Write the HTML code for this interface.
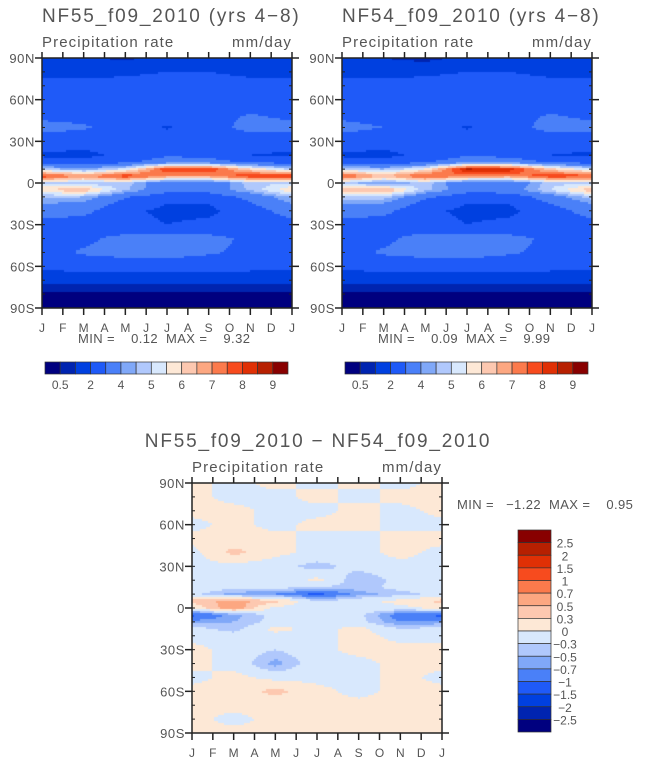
<!DOCTYPE html>
<html><head><meta charset="utf-8">
<style>
html,body{margin:0;padding:0;background:#fff;}
#wrap{position:relative;width:645px;height:763px;overflow:hidden;}
canvas,svg{position:absolute;left:0;top:0;}
text{font-family:"Liberation Sans",sans-serif;fill:#555;white-space:pre;}
</style></head><body>
<div id="wrap">
<canvas id="cv" width="645" height="763"></canvas>
<svg id="sv" width="645" height="763"></svg>
</div>
<script>
// ---- data ----
const lats = [90,80,70,60,50,40,30,20,15,10,5,0,-5,-10,-15,-20,-30,-40,-50,-60,-70,-80,-90];
const monthCols = [0,2,4,6,8,10,12]; // Jan, Mar, May, Jul, Sep, Nov, Jan
const monthLabels = ["J","F","M","A","M","J","J","A","S","O","N","D","J"];
const latTicks = [90,60,30,0,-30,-60,-90];
const latTickLabels = ["90N","60N","30N","0","30S","60S","90S"];
const precipNF55 = [
 [1.5,1.2,0.8,1.5,1.8,1.5,1.5],
 [1.8,1.8,1.8,2.0,2.0,1.8,1.8],
 [2.3,2.2,2.4,2.6,2.4,2.3,2.3],
 [2.6,2.6,2.6,2.8,2.8,2.7,2.6],
 [2.8,2.7,2.7,2.7,2.8,3.0,2.8],
 [3.2,3.1,2.6,1.9,2.6,3.3,3.2],
 [2.7,2.5,2.4,2.7,2.6,2.4,2.7],
 [1.8,1.7,2.3,2.9,2.7,2.0,1.8],
 [2.6,2.4,2.8,3.5,3.5,2.8,2.6],
 [4.8,4.2,5.2,8.0,8.0,6.0,4.8],
 [8.0,7.0,8.0,7.0,7.0,8.0,8.0],
 [5.0,4.6,4.8,3.2,3.2,4.8,5.0],
 [6.0,6.5,4.6,3.3,3.4,4.6,6.0],
 [4.6,4.5,3.1,2.4,2.4,3.3,4.6],
 [4.0,3.8,2.6,2.0,2.0,2.9,4.0],
 [3.5,3.3,2.2,1.8,1.8,2.5,3.5],
 [2.6,2.5,2.3,2.0,2.2,2.4,2.6],
 [2.6,2.8,3.3,3.4,3.3,2.8,2.6],
 [2.7,3.1,3.3,3.3,3.1,2.8,2.7],
 [2.3,2.5,2.5,2.6,2.5,2.4,2.3],
 [1.2,1.2,1.3,1.3,1.3,1.2,1.2],
 [0.4,0.4,0.4,0.4,0.4,0.4,0.4],
 [0.2,0.2,0.2,0.2,0.2,0.2,0.2]];
const precipNF54 = [
 [1.2,1.0,0.7,1.3,1.6,1.3,1.2],
 [1.8,1.8,1.8,2.0,2.0,1.8,1.8],
 [2.3,2.2,2.4,2.6,2.4,2.3,2.3],
 [2.6,2.6,2.6,2.8,2.8,2.7,2.6],
 [2.8,2.7,2.7,2.7,2.8,3.0,2.8],
 [3.2,3.0,2.5,1.9,2.6,3.3,3.2],
 [2.7,2.5,2.4,2.7,2.6,2.4,2.7],
 [1.8,1.7,2.3,2.9,2.7,2.0,1.8],
 [2.6,2.4,2.9,3.7,3.7,2.9,2.6],
 [5.0,4.5,5.6,8.6,8.4,6.2,5.0],
 [7.8,6.5,7.8,7.2,7.0,8.0,7.8],
 [4.8,4.0,4.8,3.2,3.2,4.8,4.8],
 [6.5,6.8,4.7,3.4,3.5,5.0,6.5],
 [4.8,4.8,3.2,2.4,2.4,3.5,4.8],
 [4.0,3.9,2.6,2.0,2.0,3.0,4.0],
 [3.5,3.3,2.2,1.8,1.8,2.5,3.5],
 [2.6,2.5,2.4,2.0,2.2,2.4,2.6],
 [2.6,2.8,3.4,3.5,3.3,2.8,2.6],
 [2.7,3.1,3.3,3.3,3.1,2.8,2.7],
 [2.3,2.5,2.5,2.6,2.5,2.4,2.3],
 [1.2,1.2,1.3,1.3,1.3,1.2,1.2],
 [0.4,0.4,0.4,0.4,0.4,0.4,0.4],
 [0.2,0.2,0.2,0.2,0.2,0.2,0.2]];
const precipDiff = [
 [0.1,-0.1,0.1,-0.1,0.1,-0.1,0.1],
 [0.1,-0.1,-0.1,0.1,-0.1,0.1,0.1],
 [0.1,0.1,-0.1,-0.1,0.1,-0.1,0.1],
 [-0.1,0.1,-0.1,0.1,0.1,-0.1,-0.1],
 [0.1,0.1,0.1,-0.1,-0.1,0.1,0.1],
 [-0.1,0.4,0.1,-0.1,-0.1,0.1,-0.1],
 [-0.1,-0.1,-0.2,-0.4,-0.2,-0.1,-0.1],
 [-0.1,-0.1,-0.3,0.1,-0.5,-0.2,-0.1],
 [-0.1,-0.2,-0.2,-0.3,-0.4,-0.2,-0.1],
 [-0.2,-0.6,-0.7,-1.1,-0.6,-0.4,-0.2],
 [0.4,0.6,0.4,-0.3,-0.1,0.1,0.4],
 [0.1,0.7,-0.1,-0.1,-0.1,-0.1,0.1],
 [-1.1,-0.6,-0.2,-0.3,-0.2,-0.9,-1.1],
 [-0.6,-0.5,-0.2,-0.1,-0.2,-0.7,-0.6],
 [-0.2,-0.4,0.1,-0.1,0.1,-0.3,-0.2],
 [-0.1,-0.2,-0.1,-0.1,0.1,-0.1,-0.1],
 [0.1,-0.1,-0.3,-0.1,0.1,0.1,0.1],
 [0.1,-0.1,-0.6,-0.1,-0.1,0.1,0.1],
 [-0.1,0.1,-0.1,-0.1,-0.1,0.1,-0.1],
 [0.1,0.1,0.4,0.1,-0.1,0.1,0.1],
 [0.1,0.1,0.1,0.1,0.1,0.1,0.1],
 [0.1,-0.1,0.1,0.1,0.1,0.1,0.1],
 [0.1,0.1,0.1,0.1,0.1,0.1,0.1]];
const levelsAbs = [0.5,1,2,3,4,4.5,5,5.5,6,6.5,7,7.5,8,8.5,9];
const levelsAbsLabels = ["0.5","2","4","5","6","7","8","9"];
const levelsDiff = [-2.5,-2,-1.5,-1,-0.7,-0.5,-0.3,0,0.3,0.5,0.7,1,1.5,2,2.5];
const levelsDiffLabels = ["2.5","2","1.5","1","0.7","0.5","0.3","0","\u22120.3","\u22120.5","\u22120.7","\u22121","\u22121.5","\u22122","\u22122.5"];
const palette = ["#00007f","#0024b0","#0040e0","#1f5af8","#4a80f8","#80a8f8","#b0c8fc","#d8e8fd","#fde8d6","#fdc8b0","#fca781","#fb7a4c","#f74b1e","#e03005","#b72001","#880000"];

const NS="http://www.w3.org/2000/svg";
const sv=document.getElementById('sv');
const ctx=document.getElementById('cv').getContext('2d');
function el(tag,attrs,parent){const e=document.createElementNS(NS,tag);for(const k in attrs)e.setAttribute(k,attrs[k]);(parent||sv).appendChild(e);return e;}
function txt(s,x,y,size,anchor,name,ls){const t=el('text',{x:x,y:y,'font-size':size,'text-anchor':anchor||'start'});
if(ls)t.setAttribute('letter-spacing',ls);
t.textContent=s;


return t;}

function sample(grid,lat,m){
  let i=0;while(i<lats.length-2 && lat<lats[i+1])i++;
  const ty=(lats[i]-lat)/(lats[i]-lats[i+1]);
  let j=0;while(j<monthCols.length-2 && m>monthCols[j+1])j++;
  const tx=(m-monthCols[j])/(monthCols[j+1]-monthCols[j]);
  const a=grid[i][j],b=grid[i][j+1],c=grid[i+1][j],d=grid[i+1][j+1];
  return (a*(1-tx)+b*tx)*(1-ty)+(c*(1-tx)+d*tx)*ty;
}
function colorFor(v,levels){let k=0;while(k<levels.length&&v>=levels[k])k++;return palette[k];}

function panel(x0,y0,grid,levels,title,titleX,titleAnchor,name){
  const W=250,H=250,step=2;
  const xs=m=>x0+m/12*W, ys=l=>y0+(90-l)/180*H;
  for(let px=0;px<W;px+=step){for(let py=0;py<H;py+=step){
    const m=(px+step/2)/W*12, l=90-(py+step/2)/H*180;
    ctx.fillStyle=colorFor(sample(grid,l,m),levels);
    ctx.fillRect(x0+px,y0+py,step,step);}}
  const g=el('g',{});
  
  
  el('rect',{x:x0,y:y0,width:W,height:H,fill:'none',stroke:'#222','stroke-width':1.5},g);
  for(let k=0;k<13;k++){const x=xs(k);
    el('line',{x1:x,y1:y0-6,x2:x,y2:y0,stroke:'#222','stroke-width':1.5},g);
    el('line',{x1:x,y1:y0+H,x2:x,y2:y0+H+7,stroke:'#222','stroke-width':1.5},g);
    txt(monthLabels[k],x,y0+H+24,12,'middle','month-label');}
  for(let l=-80;l<=80;l+=10){const y=ys(l);
    el('line',{x1:x0,y1:y,x2:x0+3,y2:y,stroke:'#222'},g);
    el('line',{x1:x0+W-3,y1:y,x2:x0+W,y2:y,stroke:'#222'},g);}
  latTicks.forEach((l,k)=>{const y=ys(l);
    el('line',{x1:x0-7,y1:y,x2:x0,y2:y,stroke:'#222','stroke-width':1.5},g);
    el('line',{x1:x0+W,y1:y,x2:x0+W+7,y2:y,stroke:'#222','stroke-width':1.5},g);
    txt(latTickLabels[k],x0-7,y+5,13,'end','lat-label',0.6);});
  txt(title,titleX,y0-36,19,titleAnchor,'panel-title',1.8);
  txt("Precipitation rate",x0,y0-11,15,'start','variable-name',1.1);
  txt("mm/day",x0+W,y0-11,15,'end','units-label',1.1);
}
panel(42,58,precipNF55,levelsAbs,"NF55_f09_2010 (yrs 4\u22128)",42,'start','panel-nf55');
panel(342,58,precipNF54,levelsAbs,"NF54_f09_2010 (yrs 4\u22128)",342,'start','panel-nf54');
panel(192,483,precipDiff,levelsDiff,"NF55_f09_2010 \u2212 NF54_f09_2010",318,'middle','panel-diff');
txt("MIN =    0.12  MAX =    9.32",78,343,13,'start','minmax-nf55',0.4);
txt("MIN =    0.09  MAX =    9.99",378,343,13,'start','minmax-nf54',0.4);
txt("MIN =   \u22121.22  MAX =    0.95",457,509,13,'start','minmax-diff',0.4);

function hbar(x0,name){
  const g=el('g',{});
  
  
  const bw=243/16;
  palette.forEach((c,k)=>el('rect',{x:x0+k*bw,y:362,width:bw,height:12,fill:c,stroke:'#333','stroke-width':0.7},g));
  levelsAbsLabels.forEach((s,k)=>txt(s,x0+(2*k+1)*bw,389,12,'middle','colorbar-label'));
}
hbar(45,'colorbar-nf55');hbar(345,'colorbar-nf54');
(function(){
  const g=el('g',{});
  
  
  const bh=202/16,x0=518,y0=530;
  palette.slice().reverse().forEach((c,k)=>el('rect',{x:x0,y:y0+k*bh,width:33,height:bh,fill:c,stroke:'#333','stroke-width':0.7},g));
  levelsDiffLabels.forEach((s,k)=>txt(s,565,y0+(k+1)*bh+5,12,'middle','colorbar-label'));
})();
</script>
</body></html>
